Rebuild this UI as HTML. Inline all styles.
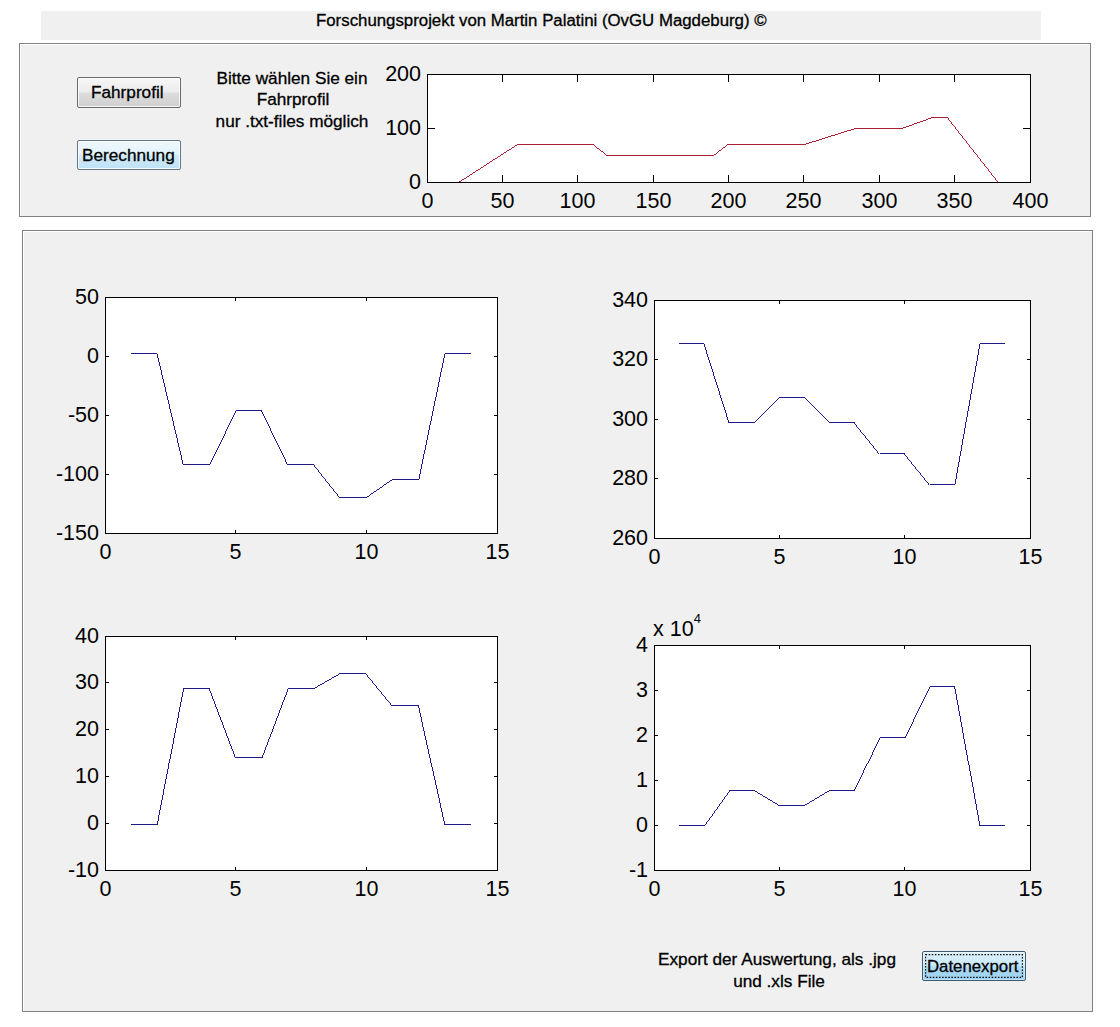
<!DOCTYPE html><html><head><meta charset="utf-8"><style>
html,body{margin:0;padding:0;width:1120px;height:1027px;overflow:hidden;background:#fff;position:relative;font-family:"Liberation Sans", sans-serif}
.a{position:absolute;white-space:nowrap;color:#000}
.ui{font-size:17.2px;line-height:21px;-webkit-text-stroke:0.3px #000}
.ax{font-size:21.5px;line-height:21px}
.btn{position:absolute;box-sizing:border-box;border:1px solid #6a6a6a;border-radius:2px;}
</style></head><body>
<div class="a" style="left:41px;top:11px;width:1000px;height:29px;background:#f0f0f0"></div>
<div class="a ui" style="left:316px;top:10px;font-size:16.82px">Forschungsprojekt von Martin Palatini (OvGU Magdeburg) ©</div>
<div class="a" style="left:19px;top:43px;width:1070px;height:172px;background:#f0f0f0;border-top:1px solid #808080;border-left:1px solid #808080;border-right:1px solid #808080;border-bottom:1px solid #808080;box-shadow:inset 1px 1px 0 #fff"></div>
<div class="a" style="left:22px;top:230px;width:1069px;height:780px;background:#f0f0f0;border:1px solid #808080;box-shadow:inset 1px 1px 0 #fff"></div>
<div class="btn" style="left:77px;top:77px;width:104px;height:31px;background:linear-gradient(#f6f6f6 0%,#ececec 48%,#dcdcdc 52%,#d0d0d0 100%);box-shadow:inset 0 0 0 1px rgba(255,255,255,.8)"></div>
<div class="a ui" style="left:91px;top:82px">Fahrprofil</div>
<div class="btn" style="left:77px;top:140px;width:104px;height:30px;border-color:#62768a;border-radius:2px;background:linear-gradient(#eef8fd 0%,#e2f3fc 48%,#cfeafa 52%,#bfe2f6 100%);box-shadow:inset 0 0 0 1px rgba(255,255,255,.85)"></div>
<div class="a ui" style="left:82px;top:145px">Berechnung</div>
<div class="a ui" style="left:200px;top:68px;width:184px;text-align:center">Bitte wählen Sie ein</div>
<div class="a ui" style="left:201px;top:89px;width:184px;text-align:center">Fahrprofil</div>
<div class="a ui" style="left:200px;top:111px;width:184px;text-align:center">nur .txt-files möglich</div>
<div class="a ui" style="left:640px;top:949px;width:274px;text-align:center">Export der Auswertung, als .jpg</div>
<div class="a ui" style="left:642px;top:971px;width:274px;text-align:center">und .xls File</div>
<div class="btn" style="left:922px;top:951px;width:104px;height:30px;border-color:#3e5a70;background:linear-gradient(#dcf0fb 0%,#cce9f8 45%,#aedbf3 55%,#98d0ef 100%);box-shadow:inset 0 0 0 1px rgba(255,255,255,.35)"></div>
<svg class="a" style="left:925px;top:954px" width="98" height="24"><rect x="0.6" y="0.6" width="96.8" height="22.8" fill="none" stroke="#000" stroke-width="1.2" stroke-dasharray="1.5 1.6"/></svg>
<div class="a ui" style="left:927px;top:956px;font-size:16.8px">Datenexport</div>
<svg class="a" style="left:0;top:0" width="1120" height="1027"><rect x="427" y="74" width="604" height="109" fill="#fff"/><polyline points="458.60,182.50 517.50,144.50 592.90,144.50 607.00,155.50 713.60,155.50 727.90,144.50 804.40,144.50 855.40,128.50 901.90,128.50 932.50,117.50 948.00,117.50 999.00,182.50" fill="none" stroke="#ab1128" stroke-width="0.95" stroke-linejoin="miter" shape-rendering="crispEdges"/><path d="M427,74.5H1031M427,182.5H1031M427.5,74V183M1030.5,74V183M427.5,183v-8M427.5,74v8M502.5,183v-8M502.5,74v8M577.5,183v-8M577.5,74v8M653.5,183v-8M653.5,74v8M728.5,183v-8M728.5,74v8M803.5,183v-8M803.5,74v8M879.5,183v-8M879.5,74v8M954.5,183v-8M954.5,74v8M1030.5,183v-8M1030.5,74v8M427,182.5h8M1031,182.5h-8M427,128.5h8M1031,128.5h-8M427,74.5h8M1031,74.5h-8" stroke="#000" stroke-width="1" fill="none" shape-rendering="crispEdges"/><rect x="105" y="297" width="393" height="237" fill="#fff"/><polyline points="131.13,353.50 157.27,353.50 183.40,464.50 209.53,464.50 235.67,410.50 261.80,410.50 287.93,464.50 314.07,464.50 340.20,497.50 366.33,497.50 392.47,479.50 418.60,479.50 444.73,353.50 470.87,353.50" fill="none" stroke="#120d84" stroke-width="0.95" stroke-linejoin="miter" shape-rendering="crispEdges"/><path d="M105,297.5H498M105,533.5H498M105.5,297V534M497.5,297V534M105.5,534v-4M105.5,297v4M235.5,534v-4M235.5,297v4M366.5,534v-4M366.5,297v4M497.5,534v-4M497.5,297v4M105,533.5h4M498,533.5h-4M105,474.5h4M498,474.5h-4M105,415.5h4M498,415.5h-4M105,356.5h4M498,356.5h-4M105,297.5h4M498,297.5h-4" stroke="#000" stroke-width="1" fill="none" shape-rendering="crispEdges"/><rect x="654" y="300" width="377" height="239" fill="#fff"/><polyline points="679.07,343.50 704.13,343.50 729.20,422.50 754.27,422.50 779.33,397.50 804.40,397.50 829.47,422.50 854.53,422.50 879.60,453.50 904.67,453.50 929.73,484.50 954.80,484.50 979.87,343.50 1004.93,343.50" fill="none" stroke="#120d84" stroke-width="0.95" stroke-linejoin="miter" shape-rendering="crispEdges"/><path d="M654,300.5H1031M654,538.5H1031M654.5,300V539M1030.5,300V539M654.5,539v-4M654.5,300v4M779.5,539v-4M779.5,300v4M904.5,539v-4M904.5,300v4M1030.5,539v-4M1030.5,300v4M654,538.5h4M1031,538.5h-4M654,478.5h4M1031,478.5h-4M654,419.5h4M1031,419.5h-4M654,359.5h4M1031,359.5h-4M654,300.5h4M1031,300.5h-4" stroke="#000" stroke-width="1" fill="none" shape-rendering="crispEdges"/><rect x="105" y="636" width="393" height="235" fill="#fff"/><polyline points="131.13,824.50 157.27,824.50 183.40,688.50 209.53,688.50 235.67,757.50 261.80,757.50 287.93,688.50 314.07,688.50 340.20,673.50 366.33,673.50 392.47,705.50 418.60,705.50 444.73,824.50 470.87,824.50" fill="none" stroke="#120d84" stroke-width="0.95" stroke-linejoin="miter" shape-rendering="crispEdges"/><path d="M105,636.5H498M105,870.5H498M105.5,636V871M497.5,636V871M105.5,871v-4M105.5,636v4M235.5,871v-4M235.5,636v4M366.5,871v-4M366.5,636v4M497.5,871v-4M497.5,636v4M105,870.5h4M498,870.5h-4M105,823.5h4M498,823.5h-4M105,776.5h4M498,776.5h-4M105,729.5h4M498,729.5h-4M105,682.5h4M498,682.5h-4M105,636.5h4M498,636.5h-4" stroke="#000" stroke-width="1" fill="none" shape-rendering="crispEdges"/><rect x="654" y="645" width="377" height="226" fill="#fff"/><polyline points="679.07,825.50 704.13,825.50 729.20,790.50 754.27,790.50 779.33,805.50 804.40,805.50 829.47,790.50 854.53,790.50 879.60,737.50 904.67,737.50 929.73,686.50 954.80,686.50 979.87,825.50 1004.93,825.50" fill="none" stroke="#120d84" stroke-width="0.95" stroke-linejoin="miter" shape-rendering="crispEdges"/><path d="M654,645.5H1031M654,870.5H1031M654.5,645V871M1030.5,645V871M654.5,871v-4M654.5,645v4M779.5,871v-4M779.5,645v4M904.5,871v-4M904.5,645v4M1030.5,871v-4M1030.5,645v4M654,870.5h4M1031,870.5h-4M654,825.5h4M1031,825.5h-4M654,780.5h4M1031,780.5h-4M654,735.5h4M1031,735.5h-4M654,690.5h4M1031,690.5h-4M654,645.5h4M1031,645.5h-4" stroke="#000" stroke-width="1" fill="none" shape-rendering="crispEdges"/></svg>
<div class="a ax" style="left:387.5px;top:191px;width:80px;text-align:center">0</div>
<div class="a ax" style="left:462.5px;top:191px;width:80px;text-align:center">50</div>
<div class="a ax" style="left:537.5px;top:191px;width:80px;text-align:center">100</div>
<div class="a ax" style="left:613.5px;top:191px;width:80px;text-align:center">150</div>
<div class="a ax" style="left:688.5px;top:191px;width:80px;text-align:center">200</div>
<div class="a ax" style="left:763.5px;top:191px;width:80px;text-align:center">250</div>
<div class="a ax" style="left:839.5px;top:191px;width:80px;text-align:center">300</div>
<div class="a ax" style="left:914.5px;top:191px;width:80px;text-align:center">350</div>
<div class="a ax" style="left:990.5px;top:191px;width:80px;text-align:center">400</div>
<div class="a ax" style="left:341px;top:171.5px;width:80px;text-align:right">0</div>
<div class="a ax" style="left:341px;top:117.5px;width:80px;text-align:right">100</div>
<div class="a ax" style="left:341px;top:63.5px;width:80px;text-align:right">200</div>
<div class="a ax" style="left:65.5px;top:542px;width:80px;text-align:center">0</div>
<div class="a ax" style="left:195.5px;top:542px;width:80px;text-align:center">5</div>
<div class="a ax" style="left:326.5px;top:542px;width:80px;text-align:center">10</div>
<div class="a ax" style="left:457.5px;top:542px;width:80px;text-align:center">15</div>
<div class="a ax" style="left:19px;top:522.5px;width:80px;text-align:right">-150</div>
<div class="a ax" style="left:19px;top:463.5px;width:80px;text-align:right">-100</div>
<div class="a ax" style="left:19px;top:404.5px;width:80px;text-align:right">-50</div>
<div class="a ax" style="left:19px;top:345.5px;width:80px;text-align:right">0</div>
<div class="a ax" style="left:19px;top:286.5px;width:80px;text-align:right">50</div>
<div class="a ax" style="left:614.5px;top:547px;width:80px;text-align:center">0</div>
<div class="a ax" style="left:739.5px;top:547px;width:80px;text-align:center">5</div>
<div class="a ax" style="left:864.5px;top:547px;width:80px;text-align:center">10</div>
<div class="a ax" style="left:990.5px;top:547px;width:80px;text-align:center">15</div>
<div class="a ax" style="left:568px;top:527.5px;width:80px;text-align:right">260</div>
<div class="a ax" style="left:568px;top:467.5px;width:80px;text-align:right">280</div>
<div class="a ax" style="left:568px;top:408.5px;width:80px;text-align:right">300</div>
<div class="a ax" style="left:568px;top:348.5px;width:80px;text-align:right">320</div>
<div class="a ax" style="left:568px;top:289.5px;width:80px;text-align:right">340</div>
<div class="a ax" style="left:65.5px;top:879px;width:80px;text-align:center">0</div>
<div class="a ax" style="left:195.5px;top:879px;width:80px;text-align:center">5</div>
<div class="a ax" style="left:326.5px;top:879px;width:80px;text-align:center">10</div>
<div class="a ax" style="left:457.5px;top:879px;width:80px;text-align:center">15</div>
<div class="a ax" style="left:19px;top:859.5px;width:80px;text-align:right">-10</div>
<div class="a ax" style="left:19px;top:812.5px;width:80px;text-align:right">0</div>
<div class="a ax" style="left:19px;top:765.5px;width:80px;text-align:right">10</div>
<div class="a ax" style="left:19px;top:718.5px;width:80px;text-align:right">20</div>
<div class="a ax" style="left:19px;top:671.5px;width:80px;text-align:right">30</div>
<div class="a ax" style="left:19px;top:625.5px;width:80px;text-align:right">40</div>
<div class="a ax" style="left:614.5px;top:879px;width:80px;text-align:center">0</div>
<div class="a ax" style="left:739.5px;top:879px;width:80px;text-align:center">5</div>
<div class="a ax" style="left:864.5px;top:879px;width:80px;text-align:center">10</div>
<div class="a ax" style="left:990.5px;top:879px;width:80px;text-align:center">15</div>
<div class="a ax" style="left:568px;top:859.5px;width:80px;text-align:right">-1</div>
<div class="a ax" style="left:568px;top:814.5px;width:80px;text-align:right">0</div>
<div class="a ax" style="left:568px;top:769.5px;width:80px;text-align:right">1</div>
<div class="a ax" style="left:568px;top:724.5px;width:80px;text-align:right">2</div>
<div class="a ax" style="left:568px;top:679.5px;width:80px;text-align:right">3</div>
<div class="a ax" style="left:568px;top:634.5px;width:80px;text-align:right">4</div>
<div class="a ax" style="left:653px;top:619px">x 10<span style="font-size:13px;position:relative;top:-13px">4</span></div>
</body></html>
